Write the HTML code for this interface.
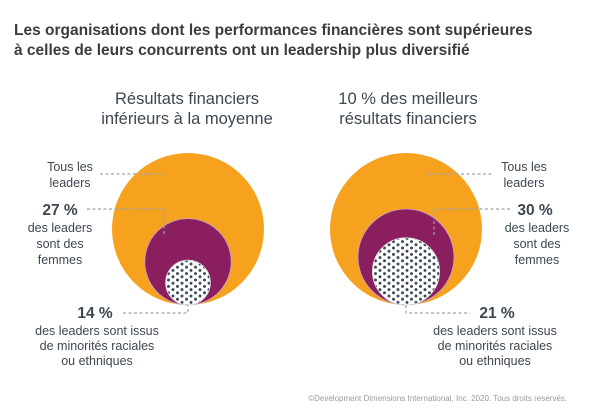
<!DOCTYPE html>
<html><head><meta charset="utf-8"><style>
body{margin:0;background:#fff;}
svg{display:block;font-family:"Liberation Sans",sans-serif;}
</style></head><body>
<svg id="chart" width="600" height="414" viewBox="0 0 600 414">
<defs>
<pattern id="dots" width="9" height="6.4" patternUnits="userSpaceOnUse">
<rect width="9" height="6.4" fill="#fff"/>
<circle cx="2" cy="1.6" r="1.5" fill="#3d4a55"/>
<circle cx="6.5" cy="4.8" r="1.5" fill="#3d4a55"/>
</pattern>
</defs>
<text x="14" y="35" font-size="15.5" font-weight="bold" fill="#3c3c3c">Les organisations dont les performances financières sont supérieures</text>
<text x="14" y="55" font-size="15.5" font-weight="bold" fill="#3c3c3c">à celles de leurs concurrents ont un leadership plus diversifié</text>
<g id="plots"></g>
<text x="567" y="401" font-size="8" fill="#9a9a9a" text-anchor="end">©Development Dimensions International, Inc. 2020. Tous droits reservés.</text>
</svg>
<script>
const groups = ["Résultats financiers inférieurs à la moyenne", "10 % des meilleurs résultats financiers"];
const womenPct = [27, 30];
const minorityPct = [14, 21];
const totalPct = [100, 100];

const NS = "http://www.w3.org/2000/svg";
const root = document.getElementById("plots");
const centersX = [188, 406];
const baseY = 305;
const R = 76;
const rScale = v => v === 100 ? R : v * 1.6;
const textCol = "#3d4752", dashCol = "#9aa4ad";

function mk(tag, attrs, parent) {
  const e = document.createElementNS(NS, tag);
  for (const k in attrs) e.setAttribute(k, attrs[k]);
  (parent || root).appendChild(e);
  return e;
}
function txt(x, y, s, size, anchor, weight, parent, name) {
  const t = mk("text", {x: x, y: y, "font-size": size, "text-anchor": anchor, fill: textCol, "font-weight": weight || "normal"}, parent);
  t.textContent = s;
  
  
  return t;
}
function dash(points, parent) {
  const p = mk("polyline", {points: points.map(q => q.join(",")).join(" "), fill: "none", stroke: dashCol, "stroke-width": 1.2, "stroke-dasharray": "3 2.5"}, parent);
  
  
}

const headings = [["Résultats financiers", "inférieurs à la moyenne"], ["10 % des meilleurs", "résultats financiers"]];
groups.forEach((g, i) => {
  const cx = centersX[i];
  const grp = mk("g", {});
  
  
  txt(cx + (i === 0 ? -1 : 2), 104, headings[i][0], 16.5, "middle", "normal", grp, "panel-heading");
  txt(cx + (i === 0 ? -1 : 2), 124, headings[i][1], 16.5, "middle", "normal", grp, "panel-heading");
  const rT = rScale(totalPct[i]), rW = rScale(womenPct[i]), rM = rScale(minorityPct[i]);
  const c1 = mk("circle", {cx: cx, cy: baseY - rT, r: rT, fill: "#f7a21e"}, grp);
  
  
  const c2 = mk("circle", {cx: cx, cy: baseY - rW, r: rW, fill: "#8a1e5e", stroke: "#c9a3c4", "stroke-width": 0.8}, grp);
  
  
  const c3 = mk("circle", {cx: cx, cy: baseY - rM, r: rM, fill: "url(#dots)", stroke: "#ddd", "stroke-width": 0.8}, grp);
  
  
  const wTop = baseY - 2 * rW;
  if (i === 0) {
    dash([[100, 174], [165, 174]], grp);
    txt(70, 171, "Tous les", 12.5, "middle", "normal", grp, "all-leaders-label");
    txt(70, 187, "leaders", 12.5, "middle", "normal", grp, "all-leaders-label");
    dash([[87, 209], [164, 209], [164, Math.max(wTop + 18, 230)]], grp);
    txt(60, 215, womenPct[i] + " %", 15.5, "middle", "bold", grp, "women-pct-value");
    txt(60, 232, "des leaders", 12.5, "middle", "normal", grp, "women-label");
    txt(60, 248, "sont des", 12.5, "middle", "normal", grp, "women-label");
    txt(60, 264, "femmes", 12.5, "middle", "normal", grp, "women-label");
    dash([[123, 313], [cx, 313], [cx, baseY]], grp);
    txt(95, 318, minorityPct[i] + " %", 15.5, "middle", "bold", grp, "minority-pct-value");
    txt(97, 335, "des leaders sont issus", 12.5, "middle", "normal", grp, "minority-label");
    txt(97, 350, "de minorités raciales", 12.5, "middle", "normal", grp, "minority-label");
    txt(97, 365, "ou ethniques", 12.5, "middle", "normal", grp, "minority-label");
  } else {
    dash([[428, 174], [492, 174]], grp);
    txt(524, 171, "Tous les", 12.5, "middle", "normal", grp, "all-leaders-label");
    txt(524, 187, "leaders", 12.5, "middle", "normal", grp, "all-leaders-label");
    dash([[434, wTop + 26], [434, 209], [512, 209]], grp);
    txt(535, 215, womenPct[i] + " %", 15.5, "middle", "bold", grp, "women-pct-value");
    txt(537, 232, "des leaders", 12.5, "middle", "normal", grp, "women-label");
    txt(537, 248, "sont des", 12.5, "middle", "normal", grp, "women-label");
    txt(537, 264, "femmes", 12.5, "middle", "normal", grp, "women-label");
    dash([[cx, baseY], [cx, 313], [470, 313]], grp);
    txt(497, 318, minorityPct[i] + " %", 15.5, "middle", "bold", grp, "minority-pct-value");
    txt(495, 335, "des leaders sont issus", 12.5, "middle", "normal", grp, "minority-label");
    txt(495, 350, "de minorités raciales", 12.5, "middle", "normal", grp, "minority-label");
    txt(495, 365, "ou ethniques", 12.5, "middle", "normal", grp, "minority-label");
  }
});
</script>
</body></html>
